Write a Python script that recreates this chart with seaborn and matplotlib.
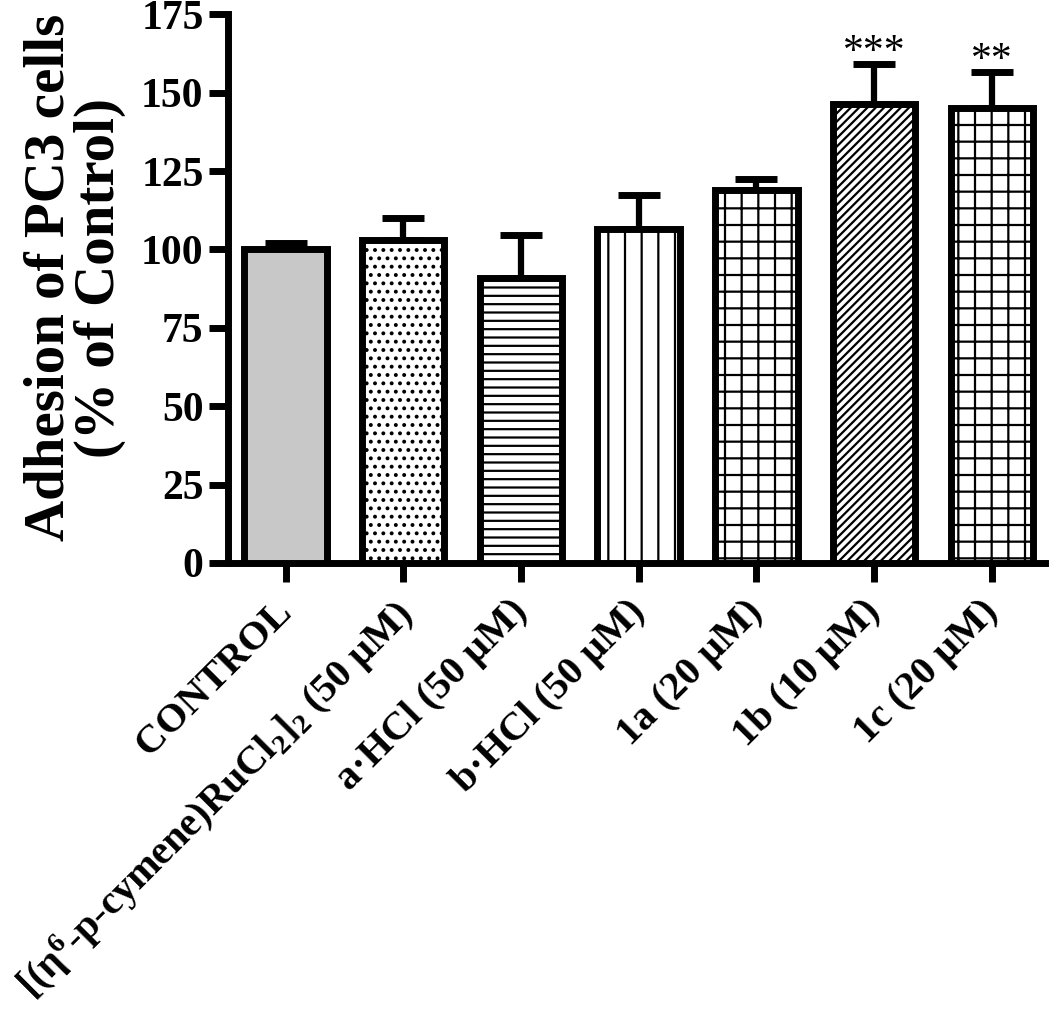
import numpy as np
import seaborn as sns
import matplotlib.pyplot as plt
import matplotlib.transforms as mtransforms
import pandas as pd

categories = ["CONTROL",
              r"[(η$^{6}$-p-cymene)RuCl$_{2}$]$_{2}$ (50 μM)",
              "a·HCl (50 μM)",
              "b·HCl (50 μM)",
              "1a (20 μM)",
              "1b (10 μM)",
              "1c (20 μM)"]
means = [100, 103, 91, 106.5, 119, 146.5, 145]
sem = [2, 7, 13.5, 11, 3.5, 12.5, 11.5]
stars = ["", "", "", "", "", "***", "**"]
hatches = ["", "..", "--", "|", "+", "////", "+"]
fills = ["#c8c8c8", "white", "white", "white", "white", "white", "white"]

sns.set_style("ticks")
plt.rcParams['font.family'] = ['Liberation Serif', 'DejaVu Serif']
plt.rcParams['font.weight'] = 'bold'
plt.rcParams['mathtext.fontset'] = 'custom'
plt.rcParams['mathtext.rm'] = 'Liberation Serif:bold'
plt.rcParams['mathtext.it'] = 'Liberation Serif:bold'
plt.rcParams['mathtext.bf'] = 'Liberation Serif:bold'
plt.rcParams['mathtext.default'] = 'rm'
plt.rcParams['hatch.linewidth'] = 1.6
plt.rcParams['hatch.color'] = 'black'
for k in ['text.color', 'axes.labelcolor', 'axes.edgecolor',
          'xtick.color', 'ytick.color']:
    plt.rcParams[k] = 'black'

df = pd.DataFrame({"group": categories, "value": means})

fig = plt.figure(figsize=(10.5, 10.18), dpi=100)
ax = fig.add_axes([0.217, 0.447, 0.778, 0.539])

sns.barplot(data=df, x="group", y="value", ax=ax, width=0.7,
            palette=fills, hue="group", legend=False,
            edgecolor="black", linewidth=5, errorbar=None, zorder=3)

for patch, h in zip(ax.patches, hatches):
    patch.set_hatch(h)

xs = [p.get_x() + p.get_width() / 2 for p in ax.patches]
ax.errorbar(xs, means, yerr=[np.zeros(len(means)), sem], fmt="none",
            ecolor="black", elinewidth=4.5, capsize=15, capthick=5, zorder=2)

for x, m, e, s in zip(xs, means, sem, stars):
    if s:
        ax.text(x, m + e - 2.5, s, ha="center", va="bottom",
                fontsize=30, fontweight="normal")

ax.set_ylim(0, 175)
ax.set_xlim(-0.49, 6.45)
ax.set_yticks(np.arange(0, 176, 25))
ax.set_xlabel("")
ax.set_ylabel("Adhesion of PC3 cells\n(% of Control)", fontsize=41,
              fontweight="bold", linespacing=0.95)
ax.yaxis.set_label_coords(-0.125, 0.52)
ax.tick_params(axis="both", length=14, width=5)
ax.tick_params(axis="y", labelsize=30)
ax.set_xticks(range(len(categories)))
ax.set_xticklabels(categories, rotation=45, ha="right",
                   rotation_mode="anchor", fontweight="bold", fontsize=29)
shift = mtransforms.ScaledTranslation(-12 / 100, -6 / 100, fig.dpi_scale_trans)
for lab in ax.get_xticklabels():
    lab.set_transform(lab.get_transform() + shift)
for lab in ax.get_yticklabels():
    lab.set_fontweight("bold")

sns.despine(ax=ax)
ax.spines["left"].set_linewidth(5)
ax.spines["bottom"].set_linewidth(5)

fig.savefig("out.png", dpi=100)
